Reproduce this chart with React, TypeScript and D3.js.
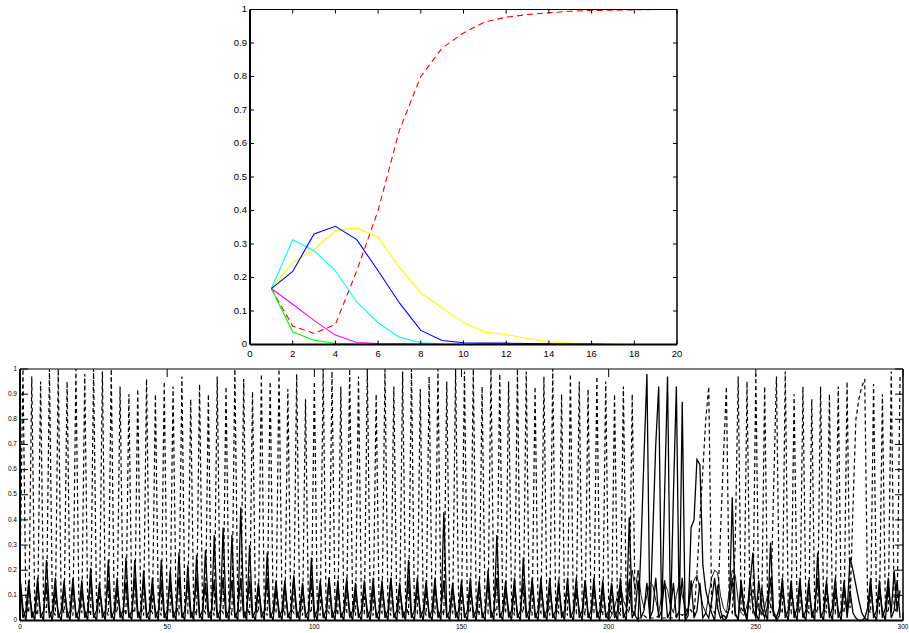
import { useEffect, useRef } from 'react';
import * as d3 from 'd3';

// ---- upper panel: six state curves over steps 1..19 ----
const steps = [1, 2, 3, 4, 5, 6, 7, 8, 9, 10, 11, 12, 13, 14, 15, 16, 17, 18, 19];
const redDashed = [0.167, 0.055, 0.033, 0.06, 0.22, 0.4, 0.64, 0.8, 0.885, 0.93, 0.963, 0.977, 0.985, 0.99, 0.995, 0.997, 0.998, 0.999, 1.0];
const greenLine = [0.167, 0.038, 0.013, 0.003, 0.001, 0, 0, 0, 0, 0, 0, 0, 0, 0, 0, 0, 0, 0, 0];
const yellowLine = [0.167, 0.245, 0.283, 0.34, 0.348, 0.32, 0.23, 0.154, 0.109, 0.066, 0.037, 0.03, 0.018, 0.008, 0.004, 0.002, 0.001, 0, 0];
const cyanLine = [0.167, 0.313, 0.28, 0.22, 0.127, 0.065, 0.022, 0.005, 0.002, 0.001, 0, 0, 0, 0, 0, 0, 0, 0, 0];
const magentaLine = [0.167, 0.12, 0.072, 0.028, 0.006, 0.003, 0.002, 0.001, 0, 0, 0, 0, 0, 0, 0, 0, 0, 0, 0];
const blueLine = [0.167, 0.218, 0.33, 0.353, 0.313, 0.22, 0.124, 0.042, 0.012, 0.005, 0.004, 0.004, 0.003, 0.002, 0.001, 0.001, 0, 0, 0];

const topXTicks = [0, 2, 4, 6, 8, 10, 12, 14, 16, 18, 20];
const yTicks = [0, 0.1, 0.2, 0.3, 0.4, 0.5, 0.6, 0.7, 0.8, 0.9, 1];

// ---- lower panel: 300 samples, dashed state + solid states ----
const bottomXTicks = [0, 50, 100, 150, 200, 250, 300];

const dashedState = [
  0.17, 1.0, 0.06, 0.03, 0.97, 0.05, 0.02, 0.95, 0.07, 0.03, 1.0, 0.05, 0.02, 1.0, 0.06, 0.03, 0.95, 0.05, 0.02, 1.0, 0.08, 0.03, 0.98, 0.05, 0.02, 1.0, 0.06, 0.03, 0.99, 0.05,
  0.02, 1.0, 0.05, 0.03, 0.93, 0.07, 0.02, 0.9, 0.05, 0.03, 0.92, 0.06, 0.02, 0.96, 0.05, 0.03, 0.9, 0.06, 0.02, 0.95, 0.05, 0.03, 0.93, 0.07, 0.02, 0.97, 0.05, 0.03, 0.88, 0.06,
  0.02, 0.94, 0.05, 0.03, 0.9, 0.06, 0.02, 0.97, 0.05, 0.03, 0.93, 0.07, 0.02, 1.0, 0.05, 0.03, 0.96, 0.06, 0.02, 0.91, 0.05, 0.03, 0.98, 0.06, 0.02, 0.95, 0.05, 0.03, 1.0, 0.07,
  0.02, 0.92, 0.05, 0.03, 0.98, 0.06, 0.02, 0.88, 0.05, 0.03, 0.95, 0.06, 0.02, 1.0, 0.05, 0.03, 0.99, 0.07, 0.02, 0.93, 0.05, 0.03, 1.0, 0.06, 0.02, 0.97, 0.05, 0.03, 1.0, 0.06,
  0.02, 0.9, 0.05, 0.03, 1.0, 0.06, 0.02, 0.93, 0.05, 0.03, 0.99, 0.07, 0.02, 1.0, 0.05, 0.03, 0.92, 0.06, 0.02, 0.97, 0.05, 0.03, 1.0, 0.06, 0.02, 0.95, 0.05, 0.03, 1.0, 0.07,
  0.02, 0.99, 0.05, 0.03, 1.0, 0.06, 0.02, 0.93, 0.05, 0.03, 1.0, 0.06, 0.02, 0.98, 0.05, 0.03, 0.95, 0.07, 0.02, 1.0, 0.05, 0.03, 0.99, 0.06, 0.02, 0.93, 0.05, 0.03, 0.97, 0.06,
  0.02, 1.0, 0.05, 0.03, 0.9, 0.06, 0.02, 0.98, 0.05, 0.03, 0.95, 0.07, 0.02, 0.92, 0.05, 0.03, 0.97, 0.06, 0.02, 0.95, 0.05, 0.03, 0.9, 0.06, 0.02, 0.93, 0.05, 0.03, 0.9, 0.02,
  0.01, 0.01, 0.02, 0.01, 0.01, 0.01, 0.01, 0.02, 0.01, 0.01, 0.01, 0.01, 0.01, 0.02, 0.03, 0.02, 0.03, 0.05, 0.04, 0.02, 0.19, 0.4, 0.6, 0.8, 0.93, 0.05, 0.03, 0.05, 0.35, 0.65,
  0.93, 0.05, 0.03, 0.3, 0.97, 0.05, 0.03, 0.95, 0.05, 0.03, 0.98, 0.05, 0.03, 0.93, 0.06, 0.03, 0.5, 0.97, 0.05, 0.03, 0.99, 0.05, 0.03, 0.9, 0.06, 0.03, 0.93, 0.05, 0.03, 0.88,
  0.05, 0.03, 0.93, 0.06, 0.03, 0.9, 0.05, 0.03, 0.93, 0.05, 0.03, 0.95, 0.05, 0.45, 0.8, 0.88, 0.93, 0.96, 0.05, 0.03, 0.94, 0.05, 0.03, 0.9, 0.05, 0.03, 0.99, 0.05, 0.03, 0.97,
];

const solidA = [
  0.17, 0.01, 0.04, 0.16, 0.01, 0.04, 0.17, 0.01, 0.04, 0.15, 0.01, 0.04, 0.17, 0.01, 0.04, 0.16, 0.01, 0.04, 0.17, 0.01, 0.04, 0.16, 0.01, 0.04, 0.17, 0.01, 0.04, 0.15, 0.01, 0.04,
  0.16, 0.01, 0.04, 0.17, 0.01, 0.04, 0.15, 0.01, 0.04, 0.17, 0.01, 0.04, 0.16, 0.01, 0.04, 0.17, 0.01, 0.04, 0.15, 0.01, 0.04, 0.16, 0.01, 0.04, 0.17, 0.01, 0.04, 0.16, 0.01, 0.04,
  0.17, 0.01, 0.04, 0.15, 0.01, 0.04, 0.16, 0.01, 0.04, 0.17, 0.01, 0.04, 0.16, 0.01, 0.04, 0.17, 0.01, 0.04, 0.16, 0.01, 0.04, 0.15, 0.01, 0.04, 0.17, 0.01, 0.04, 0.16, 0.01, 0.04,
  0.16, 0.01, 0.04, 0.17, 0.01, 0.04, 0.15, 0.01, 0.04, 0.17, 0.01, 0.04, 0.16, 0.01, 0.04, 0.17, 0.01, 0.04, 0.16, 0.01, 0.04, 0.17, 0.01, 0.04, 0.15, 0.01, 0.04, 0.16, 0.01, 0.04,
  0.17, 0.01, 0.04, 0.16, 0.01, 0.04, 0.17, 0.01, 0.04, 0.15, 0.01, 0.04, 0.16, 0.01, 0.04, 0.17, 0.01, 0.04, 0.16, 0.01, 0.04, 0.17, 0.01, 0.04, 0.16, 0.01, 0.04, 0.15, 0.01, 0.04,
  0.16, 0.01, 0.04, 0.17, 0.01, 0.04, 0.16, 0.01, 0.04, 0.15, 0.01, 0.04, 0.17, 0.01, 0.04, 0.16, 0.01, 0.04, 0.17, 0.01, 0.04, 0.15, 0.01, 0.04, 0.16, 0.01, 0.04, 0.17, 0.01, 0.04,
  0.17, 0.01, 0.04, 0.16, 0.01, 0.04, 0.15, 0.01, 0.04, 0.17, 0.01, 0.04, 0.16, 0.01, 0.04, 0.17, 0.01, 0.04, 0.16, 0.01, 0.04, 0.15, 0.01, 0.04, 0.17, 0.01, 0.04, 0.16, 0.01, 0.04,
  0.16, 0.01, 0.04, 0.15, 0.01, 0.04, 0.17, 0.01, 0.04, 0.16, 0.01, 0.04, 0.15, 0.01, 0.04, 0.17, 0.01, 0.04, 0.16, 0.01, 0.04, 0.15, 0.01, 0.03, 0.01, 0.08, 0.17, 0.05, 0.01, 0.02,
  0.01, 0.05, 0.17, 0.02, 0.01, 0.16, 0.05, 0.01, 0.17, 0.05, 0.01, 0.16, 0.05, 0.01, 0.06, 0.17, 0.02, 0.01, 0.05, 0.17, 0.01, 0.04, 0.16, 0.01, 0.05, 0.17, 0.01, 0.04, 0.16, 0.01,
  0.05, 0.17, 0.01, 0.04, 0.16, 0.01, 0.05, 0.17, 0.01, 0.04, 0.16, 0.01, 0.12, 0.03, 0.01, 0.0, 0.0, 0.01, 0.05, 0.17, 0.01, 0.04, 0.16, 0.01, 0.05, 0.17, 0.01, 0.04, 0.16, 0.01,
];

const solidB = [
  0.17, 0.05, 0.0, 0.13, 0.04, 0.0, 0.14, 0.03, 0.0, 0.24, 0.04, 0.0, 0.12, 0.03, 0.0, 0.13, 0.04, 0.0, 0.14, 0.03, 0.0, 0.12, 0.04, 0.0, 0.21, 0.03, 0.0, 0.13, 0.04, 0.0,
  0.24, 0.03, 0.0, 0.13, 0.04, 0.0, 0.25, 0.03, 0.0, 0.24, 0.04, 0.0, 0.2, 0.03, 0.0, 0.13, 0.04, 0.0, 0.24, 0.03, 0.0, 0.2, 0.04, 0.0, 0.27, 0.03, 0.0, 0.22, 0.04, 0.0,
  0.26, 0.03, 0.0, 0.28, 0.04, 0.0, 0.34, 0.03, 0.0, 0.37, 0.04, 0.0, 0.34, 0.03, 0.0, 0.45, 0.04, 0.0, 0.3, 0.03, 0.0, 0.14, 0.04, 0.0, 0.27, 0.03, 0.0, 0.13, 0.04, 0.0,
  0.14, 0.03, 0.0, 0.18, 0.04, 0.0, 0.13, 0.03, 0.0, 0.25, 0.04, 0.0, 0.14, 0.03, 0.0, 0.17, 0.04, 0.0, 0.13, 0.03, 0.0, 0.14, 0.04, 0.0, 0.12, 0.03, 0.0, 0.14, 0.04, 0.0,
  0.13, 0.03, 0.0, 0.14, 0.04, 0.0, 0.17, 0.03, 0.0, 0.13, 0.04, 0.0, 0.24, 0.03, 0.0, 0.14, 0.04, 0.0, 0.13, 0.03, 0.0, 0.14, 0.04, 0.0, 0.43, 0.03, 0.0, 0.13, 0.04, 0.0,
  0.14, 0.03, 0.0, 0.13, 0.04, 0.0, 0.14, 0.03, 0.0, 0.2, 0.04, 0.0, 0.34, 0.03, 0.0, 0.13, 0.04, 0.0, 0.14, 0.03, 0.0, 0.25, 0.04, 0.0, 0.17, 0.03, 0.0, 0.14, 0.04, 0.0,
  0.13, 0.03, 0.0, 0.14, 0.04, 0.0, 0.17, 0.03, 0.0, 0.13, 0.04, 0.0, 0.16, 0.03, 0.0, 0.14, 0.04, 0.0, 0.13, 0.03, 0.0, 0.14, 0.04, 0.0, 0.13, 0.03, 0.0, 0.41, 0.04, 0.02,
  0.0, 0.3, 0.65, 0.98, 0.0, 0.35, 0.7, 0.93, 0.0, 0.5, 0.97, 0.0, 0.5, 0.93, 0.0, 0.87, 0.0, 0.02, 0.37, 0.4, 0.64, 0.62, 0.22, 0.12, 0.07, 0.03, 0.0, 0.14, 0.04, 0.0,
  0.01, 0.05, 0.49, 0.03, 0.0, 0.13, 0.04, 0.0, 0.14, 0.27, 0.03, 0.0, 0.13, 0.04, 0.0, 0.31, 0.04, 0.0, 0.02, 0.14, 0.04, 0.0, 0.13, 0.04, 0.0, 0.14, 0.03, 0.0, 0.13, 0.04,
  0.0, 0.27, 0.03, 0.0, 0.14, 0.04, 0.0, 0.13, 0.04, 0.0, 0.14, 0.03, 0.25, 0.2, 0.14, 0.08, 0.03, 0.01, 0.0, 0.14, 0.03, 0.0, 0.13, 0.04, 0.0, 0.14, 0.03, 0.2, 0.04, 0.12,
];

// extra small humps only seen between samples 200 and 259
const humpStart = 200;
const solidC = [
  0.0, 0.02, 0.05, 0.1, 0.14, 0.08, 0.05, 0.1, 0.2, 0.12,
  0.2, 0.1, 0.05, 0.1, 0.15, 0.14, 0.08, 0.03, 0.1, 0.15,
  0.12, 0.06, 0.03, 0.1, 0.15, 0.1, 0.05, 0.04, 0.12, 0.16,
  0.18, 0.12, 0.06, 0.03, 0.1, 0.17, 0.2, 0.19, 0.1, 0.05,
  0.03, 0.12, 0.2, 0.18, 0.08, 0.03, 0.02, 0.06, 0.1, 0.12,
  0.08, 0.04, 0.02, 0.05, 0.1, 0.06, 0.03, 0.02, 0.03, 0.04,
];

const FONT = '"Liberation Sans", Arial, Helvetica, sans-serif';
const fmtY = (d: number) => (d === 0 || d === 1 ? String(d) : d.toFixed(1));

type Box = { left: number; right: number; top: number; bottom: number };

function drawFrame(svg: any, box: Box, x: any, y: any, xTicks: number[], tickLen: number, fontSize: number, xLabelY: number, yLabelX: number) {
  const g = svg.append('g');
  // tick marks, inward on all four sides
  xTicks.forEach(t => {
    const px = x(t);
    g.append('line').attr('x1', px).attr('x2', px).attr('y1', box.bottom).attr('y2', box.bottom - tickLen).attr('stroke', '#000');
    g.append('line').attr('x1', px).attr('x2', px).attr('y1', box.top).attr('y2', box.top + tickLen).attr('stroke', '#000');
    g.append('text')
      .attr('x', px).attr('y', xLabelY)
      .attr('text-anchor', 'middle')
      .attr('fill', '#000')
      .style('font-family', FONT).style('font-size', `${fontSize}px`)
      .text(String(t));
  });
  yTicks.forEach(t => {
    const py = y(t);
    g.append('line').attr('x1', box.left).attr('x2', box.left + tickLen).attr('y1', py).attr('y2', py).attr('stroke', '#000');
    g.append('line').attr('x1', box.right).attr('x2', box.right - tickLen).attr('y1', py).attr('y2', py).attr('stroke', '#000');
    g.append('text')
      .attr('x', yLabelX).attr('y', py)
      .attr('text-anchor', 'end')
      .attr('dominant-baseline', 'middle')
      .attr('fill', '#000')
      .style('font-family', FONT).style('font-size', `${fontSize}px`)
      .text(fmtY(t));
  });
  // box
  g.append('line').attr('x1', box.left).attr('x2', box.right).attr('y1', box.top).attr('y2', box.top).attr('stroke', '#000').attr('stroke-width', 1);
  g.append('line').attr('x1', box.right).attr('x2', box.right).attr('y1', box.top).attr('y2', box.bottom).attr('stroke', '#000').attr('stroke-width', 1.5);
  g.append('line').attr('x1', box.left).attr('x2', box.right).attr('y1', box.bottom).attr('y2', box.bottom).attr('stroke', '#000').attr('stroke-width', 2);
  g.append('line').attr('x1', box.left).attr('x2', box.left).attr('y1', box.top).attr('y2', box.bottom).attr('stroke', '#000').attr('stroke-width', 2);
}

const App = () => {
  const svgRef = useRef<SVGSVGElement | null>(null);

  useEffect(() => {
    const svg = d3.select(svgRef.current);
    svg.selectAll('*').remove();

    // ---------- upper chart ----------
    const topBox: Box = { left: 250, right: 677, top: 9.5, bottom: 344.5 };
    const xTop = d3.scaleLinear().domain([0, 20]).range([topBox.left, topBox.right]);
    const yTop = d3.scaleLinear().domain([0, 1]).range([topBox.bottom, topBox.top]);
    const topLine = d3.line<number>().x((_, i) => xTop(steps[i])).y(d => yTop(d));

    const topSeries = [
      { values: redDashed, color: '#ff0000', dash: '6,4' },
      { values: greenLine, color: '#00ff00', dash: null },
      { values: yellowLine, color: '#ffff00', dash: null },
      { values: cyanLine, color: '#00ffff', dash: null },
      { values: magentaLine, color: '#ff00ff', dash: null },
      { values: blueLine, color: '#0000ff', dash: null },
    ];
    topSeries.forEach(s => {
      svg.append('path')
        .attr('d', topLine(s.values))
        .attr('fill', 'none')
        .attr('stroke', s.color)
        .attr('stroke-width', 1.1)
        .attr('stroke-dasharray', s.dash);
    });
    drawFrame(svg, topBox, xTop, yTop, topXTicks, 4, 9.5, 357, 247);

    // ---------- lower chart ----------
    const botBox: Box = { left: 20, right: 903, top: 369, bottom: 620.5 };
    const xBot = d3.scaleLinear().domain([0, 300]).range([botBox.left, botBox.right]);
    const yBot = d3.scaleLinear().domain([0, 1]).range([botBox.bottom, botBox.top]);
    const botLine = d3.line<number>().x((_, i) => xBot(i)).y(d => yBot(d));
    const humpLine = d3.line<number>().x((_, i) => xBot(humpStart + i)).y(d => yBot(d));

    [solidA, solidB].forEach(vals => {
      svg.append('path')
        .attr('d', botLine(vals))
        .attr('fill', 'none')
        .attr('stroke', '#000')
        .attr('stroke-width', 1.3);
    });
    svg.append('path')
      .attr('d', humpLine(solidC))
      .attr('fill', 'none')
      .attr('stroke', '#000')
      .attr('stroke-width', 0.9);
    svg.append('path')
      .attr('d', botLine(dashedState))
      .attr('fill', 'none')
      .attr('stroke', '#000')
      .attr('stroke-width', 1.2)
      .attr('stroke-dasharray', '4,3');

    drawFrame(svg, botBox, xBot, yBot, bottomXTicks, 8, 6.5, 629, 17);
  }, []);

  return (
    <div style={{ position: 'absolute', left: 0, top: 0, width: 909, height: 633, background: '#fff' }}>
      <svg ref={svgRef} width={909} height={633} style={{ display: 'block' }} />
    </div>
  );
};

export default App;
